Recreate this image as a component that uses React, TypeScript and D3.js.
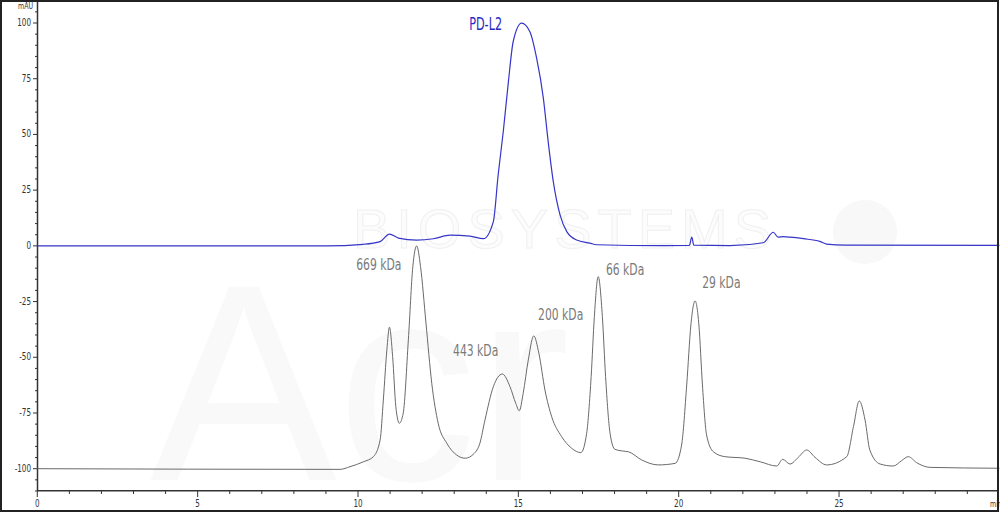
import * as d3 from "d3";
import React, { useRef, useEffect } from "react";

// PD-L2 trace (mAU)
const pdTime = [0, 9.0, 10.17, 10.69, 10.98, 11.26, 11.83, 12.35, 12.87, 13.49, 13.91, 14.22, 14.37, 14.53, 14.69, 14.84, 15.1, 15.36, 15.57, 15.78, 15.93, 16.09, 16.3, 16.51, 16.82, 17.23, 17.44, 19.52, 20.33, 20.41, 20.47, 21.6, 22.64, 22.95, 23.1, 23.26, 23.47, 23.89, 24.4, 24.61, 25.2, 30];
const pdValue = [0, 0, 0.7, 1.9, 5.3, 3.5, 2.6, 3.2, 4.8, 4.4, 3.2, 10.9, 31.8, 51.3, 73.7, 91.7, 99.9, 96.1, 84.2, 66.2, 46.8, 28.8, 13.9, 6.4, 2.6, 1.2, 0.5, 0.1, 0.2, 3.9, 0.3, 0.1, 1.4, 6.1, 3.9, 4.1, 3.9, 3.2, 2.0, 0.8, 0.3, 0.2];

// standard mix trace (offset -100)
const stdTime = [0, 9.44, 9.75, 10.17, 10.48, 10.69, 10.79, 10.9, 10.98, 11.08, 11.18, 11.29, 11.41, 11.57, 11.71, 11.83, 11.95, 12.12, 12.3, 12.5, 12.77, 13.08, 13.34, 13.62, 13.8, 13.96, 14.22, 14.5, 14.74, 14.92, 15.03, 15.15, 15.31, 15.48, 15.64, 15.83, 16.04, 16.35, 16.66, 16.95, 17.13, 17.27, 17.37, 17.49, 17.62, 17.72, 17.86, 18.01, 18.33, 18.43, 18.85, 19.36, 19.89, 20.09, 20.25, 20.38, 20.51, 20.63, 20.74, 20.87, 21.08, 21.44, 22.07, 22.54, 23.06, 23.24, 23.47, 23.73, 23.99, 24.25, 24.61, 25.24, 25.45, 25.63, 25.81, 25.96, 26.28, 26.69, 26.95, 27.16, 27.42, 27.84, 30];
const stdValue = [-100, -100.3, -99.1, -96.9, -94.6, -87.1, -69.2, -46.7, -36.5, -49.7, -72.2, -79.6, -75.1, -42.2, -9.3, 0, -9.3, -34.7, -61.7, -79.6, -88.6, -93.9, -95.3, -93.2, -88.6, -78.1, -63.2, -57.5, -63.2, -70.7, -74.0, -66.2, -51.2, -40.4, -48.2, -64.7, -76.7, -85.6, -90.8, -92.8, -84.1, -58.7, -31.8, -13.8, -31.8, -58.7, -84.1, -91.3, -92.2, -92.4, -96.1, -98.3, -97.6, -89.4, -62.4, -35.5, -24.7, -35.5, -62.4, -84.9, -92.4, -94.6, -95.3, -96.9, -98.8, -95.8, -97.9, -94.9, -91.6, -94.9, -98.3, -94.6, -81.1, -69.6, -78.1, -91.6, -97.9, -98.8, -96.4, -94.6, -97.3, -99.4, -99.8];

const yMajor = [100, 75, 50, 25, 0, -25, -50, -75, -100];
const xMajor = [0, 5, 10, 15, 20, 25];

const peakNames = ["669 kDa", "443 kDa", "200 kDa", "66 kDa", "29 kDa"];
const peakLabelTime = [10.65, 13.67, 16.32, 18.33, 21.33];
const peakLabelValue = [-9.0, -47.6, -31.4, -11.2, -16.8];

const font = "'Liberation Sans Narrow', 'Arial Narrow', 'DejaVu Sans Condensed', sans-serif";

// stretch text vertically around its baseline y
const stretch = (yy: number, k: number) => `translate(0,${yy}) scale(1,${k}) translate(0,${-yy})`;

export default function App() {
  const svgRef = useRef<SVGSVGElement | null>(null);

  useEffect(() => {
    document.body.style.margin = "0";
    const width = 1000;
    const height = 513;
    const svg = d3.select(svgRef.current).attr("width", width).attr("height", height);
    svg.selectAll("*").remove();

    const x = d3.scaleLinear().domain([0, 30]).range([37.3, 999.4]);
    const y = d3.scaleLinear().domain([-100, 100]).range([468.7, 23]);

    svg.append("rect").attr("width", width).attr("height", height).attr("fill", "#fff");

    // faint watermark
    const wm = svg.append("g").attr("font-family", "'Liberation Sans', Arial, sans-serif");
    wm.append("text").attr("x", 565).attr("y", 248).attr("text-anchor", "middle")
      .attr("font-size", 56).attr("letter-spacing", 6)
      .attr("fill", "#fcfcfc").attr("stroke", "#f0f0f0").attr("stroke-width", 1)
      .text("BIOSYSTEMS");
    wm.append("text").attr("x", 150).attr("y", 480).attr("font-size", 280)
      .attr("fill", "#f9f9f9").text("Acr");
    wm.append("circle").attr("cx", 865).attr("cy", 232).attr("r", 32).attr("fill", "#f8f8f8");

    // axes
    const axis = svg.append("g").attr("stroke", "#333").attr("stroke-width", 1);
    axis.append("line").attr("x1", 37.5).attr("x2", 37.5).attr("y1", 2).attr("y2", 491).attr("stroke-width", 1.5);
    axis.append("line").attr("x1", 37).attr("x2", 998).attr("y1", 490.7).attr("y2", 490.7).attr("stroke-width", 1.5);

    d3.range(-110, 110, 5).forEach(v => {
      const major = v % 25 === 0;
      axis.append("line").attr("x1", 37.5).attr("x2", major ? 33 : 35)
        .attr("y1", y(v)).attr("y2", y(v));
    });
    d3.range(0, 30, 1).forEach(t => {
      const major = t % 5 === 0;
      axis.append("line").attr("x1", x(t)).attr("x2", x(t))
        .attr("y1", 490.7).attr("y2", major ? 497 : 494);
    });

    const lab = svg.append("g").attr("font-family", font).attr("fill", "#333").attr("font-size", 8);
    yMajor.forEach(v => {
      const yy = y(v) + 3;
      lab.append("text").attr("x", 31).attr("y", yy)
        .attr("text-anchor", "end").attr("transform", stretch(yy, 1.3))
        .text(String(v));
    });
    xMajor.forEach(t => {
      lab.append("text").attr("x", x(t)).attr("y", 507).attr("text-anchor", "middle")
        .attr("transform", stretch(507, 1.3)).text(String(t));
    });
    lab.append("text").attr("x", 18).attr("y", 9).attr("font-size", 7)
      .attr("transform", stretch(9, 1.3)).text("mAU");
    lab.append("text").attr("x", 990).attr("y", 507).attr("font-size", 7)
      .attr("transform", stretch(507, 1.3)).text("min");

    const stdPts = stdTime.map((t, i) => [x(t), y(stdValue[i])] as [number, number]);
    const pdPts = pdTime.map((t, i) => [x(t), y(pdValue[i])] as [number, number]);
    const path = d3.line().curve(d3.curveMonotoneX);

    svg.append("path").attr("d", path(stdPts)).attr("fill", "none")
      .attr("stroke", "#6a6a6a").attr("stroke-width", 1);
    svg.append("path").attr("d", path(pdPts)).attr("fill", "none")
      .attr("stroke", "#3535c8").attr("stroke-width", 1.2);

    // annotations
    const ann = svg.append("g").attr("font-family", font).attr("font-size", 12);
    peakNames.forEach((name, i) => {
      const px = x(peakLabelTime[i]);
      const py = y(peakLabelValue[i]) + 4.5;
      ann.append("text").attr("x", px).attr("y", py)
        .attr("text-anchor", "middle").attr("fill", "#7a7a7a")
        .attr("transform", stretch(py, 1.35))
        .text(name);
    });
    const pdY = y(99.1) + 5;
    ann.append("text").attr("x", x(13.98)).attr("y", pdY).attr("font-size", 12.5)
      .attr("text-anchor", "middle").attr("fill", "#2a2ac0")
      .attr("transform", stretch(pdY, 1.35))
      .text("PD-L2");

    // image frame
    svg.append("rect").attr("x", 1).attr("y", 1).attr("width", 997).attr("height", 510)
      .attr("fill", "none").attr("stroke", "#222").attr("stroke-width", 2);
  }, []);

  return <svg ref={svgRef} style={{ display: "block" }} />;
}
